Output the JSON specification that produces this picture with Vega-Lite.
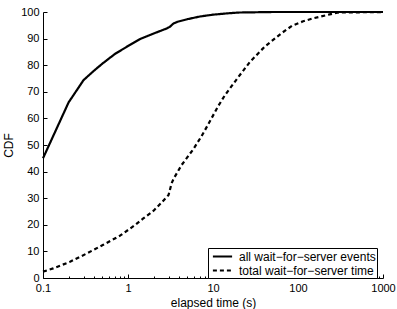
{
  "$schema": "https://vega.github.io/schema/vega-lite/v6.json",
  "width": 340,
  "height": 266,
  "autosize": {"type": "none"},
  "padding": {"left": 43, "top": 12, "right": 14, "bottom": 31},
  "background": "white",
  "config": {
    "view": {"stroke": null},
    "font": "Liberation Sans",
    "axis": {
      "domainColor": "black",
      "domainWidth": 1,
      "tickColor": "black",
      "tickWidth": 1,
      "labelColor": "black",
      "labelFontSize": 11,
      "labelFont": "Liberation Sans",
      "titleColor": "black",
      "titleFont": "Liberation Sans",
      "titleFontSize": 12,
      "titleFontWeight": "normal",
      "grid": false
    }
  },
  "data": {
    "values": [
      {"series": "all wait−for−server events", "t": 0.1, "cdf": 45},
      {"series": "all wait−for−server events", "t": 0.2, "cdf": 66},
      {"series": "all wait−for−server events", "t": 0.3, "cdf": 74.4},
      {"series": "all wait−for−server events", "t": 0.4, "cdf": 78},
      {"series": "all wait−for−server events", "t": 0.5, "cdf": 80.6},
      {"series": "all wait−for−server events", "t": 0.7, "cdf": 84.2},
      {"series": "all wait−for−server events", "t": 1, "cdf": 87.2},
      {"series": "all wait−for−server events", "t": 1.4, "cdf": 89.9},
      {"series": "all wait−for−server events", "t": 2, "cdf": 91.9},
      {"series": "all wait−for−server events", "t": 2.85, "cdf": 93.8},
      {"series": "all wait−for−server events", "t": 3.1, "cdf": 94.4},
      {"series": "all wait−for−server events", "t": 3.4, "cdf": 95.6},
      {"series": "all wait−for−server events", "t": 3.8, "cdf": 96.3},
      {"series": "all wait−for−server events", "t": 5, "cdf": 97.3},
      {"series": "all wait−for−server events", "t": 7, "cdf": 98.3},
      {"series": "all wait−for−server events", "t": 10, "cdf": 99},
      {"series": "all wait−for−server events", "t": 15, "cdf": 99.5},
      {"series": "all wait−for−server events", "t": 20, "cdf": 99.8},
      {"series": "all wait−for−server events", "t": 50, "cdf": 100},
      {"series": "all wait−for−server events", "t": 1000, "cdf": 100},
      {"series": "total wait−for−server time", "t": 0.1, "cdf": 2.4},
      {"series": "total wait−for−server time", "t": 0.132, "cdf": 3.6},
      {"series": "total wait−for−server time", "t": 0.208, "cdf": 6.1},
      {"series": "total wait−for−server time", "t": 0.326, "cdf": 9.2},
      {"series": "total wait−for−server time", "t": 0.512, "cdf": 12.5},
      {"series": "total wait−for−server time", "t": 0.804, "cdf": 15.9},
      {"series": "total wait−for−server time", "t": 1.21, "cdf": 19.9},
      {"series": "total wait−for−server time", "t": 1.5, "cdf": 22.3},
      {"series": "total wait−for−server time", "t": 2.0, "cdf": 25.3},
      {"series": "total wait−for−server time", "t": 2.49, "cdf": 28.4},
      {"series": "total wait−for−server time", "t": 3.0, "cdf": 31.2},
      {"series": "total wait−for−server time", "t": 3.26, "cdf": 35.6},
      {"series": "total wait−for−server time", "t": 3.45, "cdf": 37.4},
      {"series": "total wait−for−server time", "t": 4.28, "cdf": 42.5},
      {"series": "total wait−for−server time", "t": 5.83, "cdf": 48.3},
      {"series": "total wait−for−server time", "t": 7.3, "cdf": 53.2},
      {"series": "total wait−for−server time", "t": 8.8, "cdf": 57.8},
      {"series": "total wait−for−server time", "t": 11.5, "cdf": 64.6},
      {"series": "total wait−for−server time", "t": 13.8, "cdf": 68.7},
      {"series": "total wait−for−server time", "t": 19.7, "cdf": 75.4},
      {"series": "total wait−for−server time", "t": 27.3, "cdf": 81.3},
      {"series": "total wait−for−server time", "t": 41, "cdf": 87.1},
      {"series": "total wait−for−server time", "t": 64.4, "cdf": 92.1},
      {"series": "total wait−for−server time", "t": 85, "cdf": 94.8},
      {"series": "total wait−for−server time", "t": 115, "cdf": 96.5},
      {"series": "total wait−for−server time", "t": 150, "cdf": 97.6},
      {"series": "total wait−for−server time", "t": 236, "cdf": 99.1},
      {"series": "total wait−for−server time", "t": 300, "cdf": 99.8},
      {"series": "total wait−for−server time", "t": 1000, "cdf": 100}
    ]
  },
  "mark": {"type": "line", "strokeWidth": 2.2, "color": "black", "strokeCap": "butt", "strokeJoin": "round"},
  "encoding": {
    "x": {
      "field": "t",
      "type": "quantitative",
      "scale": {"type": "log", "domain": [0.1, 1000], "nice": false},
      "axis": {
        "title": "elapsed time (s)",
        "values": [0.1, 0.2, 0.3, 0.4, 0.5, 0.6, 0.7, 0.8, 0.9, 1, 2, 3, 4, 5, 6, 7, 8, 9, 10, 20, 30, 40, 50, 60, 70, 80, 90, 100, 200, 300, 400, 500, 600, 700, 800, 900, 1000],
        "labelExpr": "abs(log(datum.value)/LN10 - round(log(datum.value)/LN10)) < 0.000001 ? format(datum.value, '~g') : ''",
        "tickSize": {"condition": {"test": "abs(log(datum.value)/LN10 - round(log(datum.value)/LN10)) < 0.000001", "value": -4}, "value": -2},
        "labelPadding": 8,
        "labelFlush": false,
        "labelOverlap": false,
        "titlePadding": 2
      }
    },
    "y": {
      "field": "cdf",
      "type": "quantitative",
      "scale": {"domain": [0, 100], "nice": false},
      "axis": {
        "title": "CDF",
        "values": [0, 10, 20, 30, 40, 50, 60, 70, 80, 90, 100],
        "tickSize": -4,
        "labelPadding": 8,
        "titlePadding": 5
      }
    },
    "strokeDash": {
      "field": "series",
      "type": "nominal",
      "scale": {"domain": ["all wait−for−server events", "total wait−for−server time"], "range": [[1, 0], [4, 3]]},
      "legend": {
        "title": null,
        "orient": "none",
        "legendX": 165,
        "legendY": 236,
        "strokeColor": "black",
        "fillColor": "white",
        "padding": 1,
        "rowPadding": 0,
        "symbolType": "M-1.6,0H1.6",
        "symbolSize": 144,
        "symbolStrokeWidth": 2.2,
        "symbolStrokeColor": "black",
        "symbolOffset": 6,
        "labelOffset": 9,
        "labelFontSize": 12,
        "labelFont": "Liberation Sans",
        "labelColor": "black",
        "labelLimit": 0
      }
    }
  }
}
